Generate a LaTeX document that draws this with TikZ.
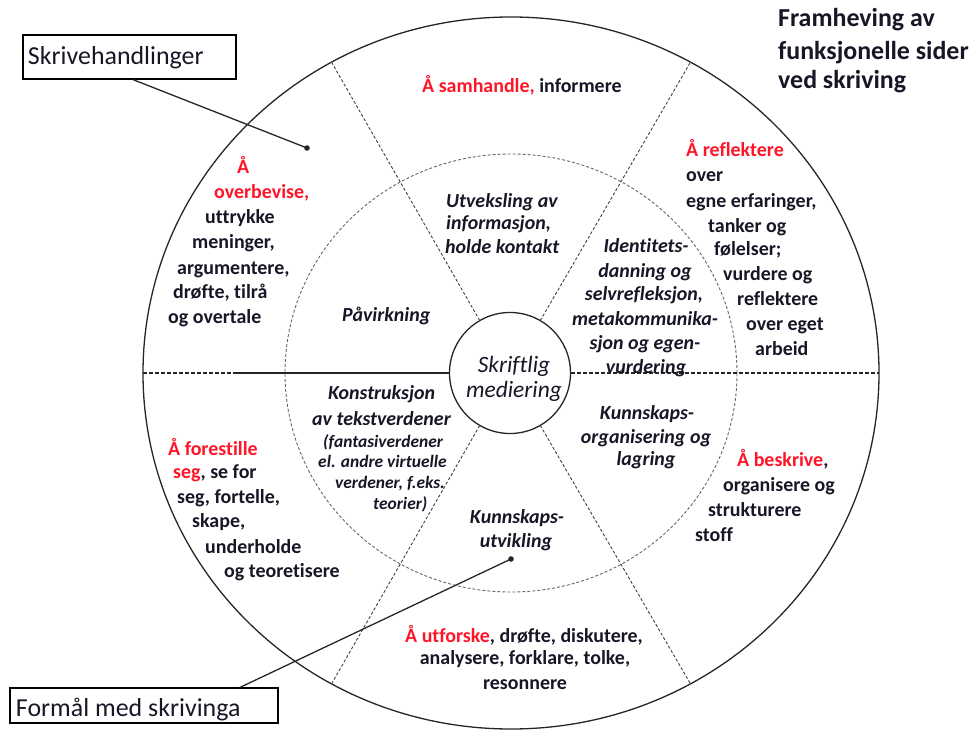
\documentclass[tikz,border=0pt]{standalone}
\usepackage{fontspec}
\setmainfont{Carlito}[Ligatures=CommonOff]
\usetikzlibrary{shapes.geometric}
\definecolor{ink}{RGB}{22,22,38}
\definecolor{hot}{RGB}{255,20,40}
\begin{document}
\begin{tikzpicture}[x=1bp,y=-1bp,
  ring/.style={font=\bfseries\fontsize{20}{24}\selectfont, text=ink, inner sep=0pt, anchor=base west},
  ringc/.style={ring, anchor=base},
  inr/.style={font=\bfseries\itshape\fontsize{20}{24}\selectfont, text=ink, inner sep=0pt, anchor=base west},
  inrc/.style={inr, anchor=base},
  sml/.style={font=\bfseries\itshape\fontsize{17.5}{21}\selectfont, text=ink, inner sep=0pt, anchor=base west},
  hub/.style={font=\itshape\fontsize{23.5}{25}\selectfont, text=ink, inner sep=0pt, anchor=base},
  ttl/.style={font=\bfseries\fontsize{26}{31}\selectfont, text=ink, inner sep=0pt, anchor=base west},
  lbl/.style={draw, line width=1.2bp, font=\fontsize{26}{30}\selectfont, text=ink},
  spoke/.style={draw=black!75, line width=0.9bp, dash pattern=on 3bp off 2bp},
  midring/.style={draw=black!60, line width=0.9bp, dash pattern=on 3bp off 2bp},
  axisd/.style={draw=black!85, line width=1.2bp, dash pattern=on 4bp off 2bp},
  axiss/.style={draw=black!85, line width=1.2bp},
  lead/.style={draw=black!85, line width=1.3bp}
]
\useasboundingbox (0,0) rectangle (975,731);

% rings
\node[ellipse, draw=black!85, line width=1.3bp, minimum width=736bp, minimum height=712bp, inner sep=0pt, outer sep=0pt] (outer) at (511,373) {};
\node[ellipse, midring, minimum width=452bp, minimum height=438bp, inner sep=0pt, outer sep=0pt] (mid) at (511,373) {};
\node[circle, draw=black!85, line width=1.3bp, minimum size=121bp, inner sep=0pt, outer sep=0pt] (core) at (510,373) {};

% spokes
\draw[spoke] (core.60) -- (outer.60);
\draw[spoke] (core.120) -- (outer.120);
\draw[spoke] (core.240) -- (outer.240);
\draw[spoke] (core.300) -- (outer.300);

% horizontal axis
\coordinate (hl) at (233,373);
\draw[axisd] (outer.west) -- (hl);
\draw[axiss] (hl) -- (core.west);
\draw[axisd] (core.east) -- (outer.east);

% hub text
\node[hub] (h1) at (514,372) {Skriftlig};
\node[hub] (h2) at (514,397) {mediering};

% label boxes and leaders
\node[lbl, minimum width=213bp, minimum height=44bp, inner xsep=5bp, inner ysep=2bp, text height=18bp, text depth=2bp] (sk) at (129.5,57) {\makebox[203bp][l]{Skrivehandlinger}};
\node[lbl, minimum width=268bp, minimum height=35bp, inner xsep=6bp, inner ysep=2bp, text height=24bp, text depth=2bp] (fm) at (144,705.5) {\makebox[256bp][l]{Formål med skrivinga}};
\coordinate (d1) at (307,148);
\coordinate (d2) at (511,559);
\draw[lead] ([xshift=3.5bp]sk.south) -- (d1);
\draw[lead] ([xshift=96bp]fm.north) -- (d2);
\fill[black!85] (d1) circle (2.8bp);
\fill[black!85] (d2) circle (2.8bp);

% title
\node[ttl] (t1) at (778,27) {Framheving av};
\node[ttl] (t2) at (778,60) {funksjonelle sider};
\node[ttl] (t3) at (778,89) {ved skriving};

% outer ring: overbevise
\node[ring] (o1) at (237,174) {\color{hot}Å};
\node[ring] (o2) at (214,198) {\color{hot}overbevise,};
\node[ring] (o3) at (205,223) {uttrykke};
\node[ring] (o4) at (192,248) {meninger,};
\node[ring] (o5) at (177,274) {argumentere,};
\node[ring] (o6) at (173,298) {drøfte, tilrå};
\node[ring] (o7) at (168,323) {og overtale};

% samhandle
\node[ring] (s1) at (422,93) {{\color{hot}Å samhandle,} informere};

% reflektere
\node[ring] (r1) at (686,157) {\color{hot}Å reflektere};
\node[ring] (r2) at (686,182) {over};
\node[ring] (r3) at (686,207) {egne erfaringer,};
\node[ring] (r4) at (708,232) {tanker og};
\node[ring] (r5) at (714,255) {følelser;};
\node[ring] (r6) at (723,280) {vurdere og};
\node[ring] (r7) at (737,305) {reflektere};
\node[ring] (r8) at (746,330) {over eget};
\node[ring] (r9) at (755,355) {arbeid};

% beskrive
\node[ring] (b1) at (737,466) {{\color{hot}Å beskrive},};
\node[ring] (b2) at (723,491) {organisere og};
\node[ring] (b3) at (708,516) {strukturere};
\node[ring] (b4) at (695,541) {stoff};

% forestille
\node[ring] (f1) at (168,455) {\color{hot}Å forestille};
\node[ring] (f2) at (173,478) {{\color{hot}seg}, se for};
\node[ring] (f3) at (177,503) {seg, fortelle,};
\node[ring] (f4) at (192,527) {skape,};
\node[ring] (f5) at (205,553) {underholde};
\node[ring] (f6) at (224,577) {og teoretisere};

% utforske
\node[ringc] (u1) at (524,642) {{\color{hot}Å utforske}, drøfte, diskutere,};
\node[ringc] (u2) at (525,664) {analysere, forklare, tolke,};
\node[ringc] (u3) at (525,689) {resonnere};

% inner ring
\node[inr] (i1) at (446,207) {Utveksling av};
\node[inr] (i2) at (446,229) {informasjon,};
\node[inr] (i3) at (445,253) {holde kontakt};

\node[inr] (pv) at (342,321) {Påvirkning};

\node[inrc] (id1) at (646,252) {Identitets-};
\node[inrc] (id2) at (645,277) {danning og};
\node[inrc] (id3) at (644,300) {selvrefleksjon,};
\node[inrc] (id4) at (645,325) {metakommunika-};
\node[inrc] (id5) at (645,349) {sjon og egen-};
\node[inrc] (id6) at (646,373) {vurdering};

\node[inr] (k1) at (328,399) {Konstruksjon};
\node[inr] (k2) at (312,425) {av tekstverdener};
\node[sml] (k3) at (323,447) {(fantasiverdener};
\node[sml] (k4) at (318,467) {el. andre virtuelle};
\node[sml] (k5) at (335,488) {verdener, f.eks.};
\node[sml] (k6) at (373,509) {teorier)};

\node[inrc] (ko1) at (647,419) {Kunnskaps-};
\node[inrc] (ko2) at (646,443) {organisering og};
\node[inrc] (ko3) at (646,465) {lagring};

\node[inrc] (ku1) at (517,523) {Kunnskaps-};
\node[inrc] (ku2) at (516,547) {utvikling};
\end{tikzpicture}
\end{document}
